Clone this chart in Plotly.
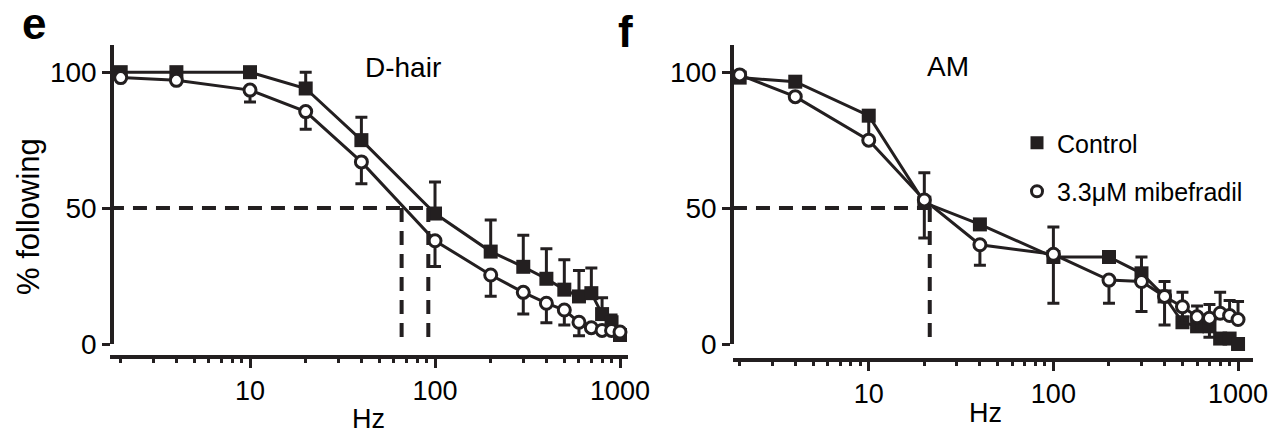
import plotly.graph_objects as go

# page body has an 8px default margin; figure is sized so it fits exactly
OFF = 8
W, H = 1282 - OFF, 439 - OFF
INK = "#231f20"
FONT = "Liberation Sans, Arial, sans-serif"

# ---- data ----
freq = [2, 4, 10, 20, 40, 100, 200, 300, 400, 500, 600, 700, 800, 900, 1000]

dhair_ctrl = [100, 100, 100, 94, 75, 48, 34, 28.4, 24, 20, 17.5, 18.7, 11, 8, 3.3]
dhair_ctrl_up = [0, 0, 0, 6, 8.4, 11.6, 11.6, 11.6, 11, 11, 9.5, 9.3, 6, 2.7, 0]
dhair_ctrl_dn = [0] * 15
dhair_mib = [98, 97, 93.4, 85.5, 67, 38, 25.4, 19, 15, 12.5, 8, 6, 5, 5, 4.4]
dhair_mib_up = [0] * 15
dhair_mib_dn = [0, 0, 4.4, 6.5, 8, 9.5, 7.8, 8, 7.2, 5.5, 5, 0, 0, 0, 0]

am_ctrl = [98, 96.5, 84, 52, 44, 32, 32, 26, 17.5, 8, 6.5, 6.5, 2, 2, 0]
am_ctrl_up = [0, 0, 0, 11, 0, 11, 0, 6, 5.5, 0, 0, 0, 0, 0, 0]
am_ctrl_dn = [0, 0, 8, 0, 0, 0, 0, 0, 0, 0, 0, 0, 0, 0, 0]
am_mib = [99, 91, 75, 53, 36.5, 33, 23.5, 23, 17.5, 13.7, 10, 9.5, 11.3, 10.5, 9]
am_mib_up = [0, 0, 0, 0, 0, 0, 0, 0, 0, 5.3, 4, 5, 7.7, 5.5, 6.6]
am_mib_dn = [0, 0, 0, 14, 7.5, 18, 8.5, 11, 10.5, 6, 5, 7, 0, 0, 0]

# half-maximum frequencies (dashed guides)
dhair_half = [66, 92]
am_half = [21.4]

x_ticks = [10, 100, 1000]
x_minor = [2, 3, 4, 5, 6, 7, 8, 9, 20, 30, 40, 50, 60, 70, 80, 90,
           200, 300, 400, 500, 600, 700, 800, 900]
y_ticks = [0, 50, 100]

legend_names = ["Control", "3.3\u03bcM mibefradil"]


def px_x(p):
    return (p - OFF) / W


def px_y(p):
    return 1 - (p - OFF) / H


fig = go.Figure()


def add_series(xa, ya, y, up, dn, kind):
    if kind == "ctrl":
        marker = dict(symbol="square", size=14, color=INK, line=dict(width=0))
    else:
        marker = dict(symbol="circle", size=12, color="white", line=dict(width=3, color=INK))
    fig.add_trace(go.Scatter(
        x=freq, y=y, xaxis=xa, yaxis=ya, mode="lines+markers",
        line=dict(color=INK, width=3), marker=marker, cliponaxis=False,
        error_y=dict(type="data", symmetric=False, array=up, arrayminus=dn,
                     color=INK, thickness=3, width=6),
        showlegend=False, hoverinfo="skip"))


add_series("x", "y", dhair_ctrl, dhair_ctrl_up, dhair_ctrl_dn, "ctrl")
add_series("x", "y", dhair_mib, dhair_mib_up, dhair_mib_dn, "mib")
add_series("x2", "y2", am_ctrl, am_ctrl_up, am_ctrl_dn, "ctrl")
add_series("x2", "y2", am_mib, am_mib_up, am_mib_dn, "mib")

# legend-only entries
fig.add_trace(go.Scatter(x=[None], y=[None], xaxis="x2", yaxis="y2", mode="markers",
                         name=legend_names[0], legendgroup="a",
                         marker=dict(symbol="square", size=13, color=INK)))
fig.add_trace(go.Scatter(x=[None], y=[None], xaxis="x2", yaxis="y2", mode="markers",
                         name=legend_names[1], legendgroup="b",
                         marker=dict(symbol="circle", size=11, color="white",
                                     line=dict(width=3, color=INK))))

# dashed guide lines
dash = "14px,9px"
LW = 4
shapes = []
shapes.append(dict(type="line", xref="x", yref="y", x0=1.75, x1=max(dhair_half), y0=50, y1=50,
                   line=dict(color=INK, width=LW, dash=dash)))
for f in dhair_half:
    shapes.append(dict(type="line", xref="x", yref="y", x0=f, x1=f, y0=50, y1=0,
                       line=dict(color=INK, width=LW, dash=dash)))
shapes.append(dict(type="line", xref="x2", yref="y2", x0=1.84, x1=am_half[0], y0=50, y1=50,
                   line=dict(color=INK, width=LW, dash=dash)))
shapes.append(dict(type="line", xref="x2", yref="y2", x0=am_half[0], x1=am_half[0], y0=50, y1=0,
                   line=dict(color=INK, width=LW, dash=dash)))

common_x = dict(type="log", showline=True, linewidth=3.5, linecolor=INK, ticks="outside",
                ticklen=9, tickwidth=3, tickcolor=INK, tickvals=x_ticks,
                ticktext=[str(v) for v in x_ticks], showgrid=False, zeroline=False,
                tickfont=dict(family=FONT, size=27, color="black"),
                minor=dict(tickvals=x_minor, ticks="outside", ticklen=4, tickwidth=2.5,
                           tickcolor=INK, showgrid=False),
                anchor="free", fixedrange=True, automargin=False)
common_y = dict(range=[0, 110], showline=True, linewidth=3.5, linecolor=INK, ticks="outside",
                ticklen=8, tickwidth=3, tickcolor=INK, tickvals=y_ticks, showgrid=False,
                zeroline=False, tickfont=dict(family=FONT, size=28, color="black"),
                anchor="free", domain=[px_y(344), px_y(45)], fixedrange=True,
                automargin=False)


def ann(text, x, y, size, angle=0):
    return dict(text=text, x=px_x(x), y=px_y(y), xref="paper", yref="paper",
                xanchor="center", yanchor="middle",
                showarrow=False, textangle=angle,
                font=dict(size=size, family=FONT, color="black"))


fig.update_layout(
    width=W, height=H, margin=dict(l=0, r=0, t=0, b=0, autoexpand=False),
    paper_bgcolor="white", plot_bgcolor="white",
    font=dict(family=FONT, color="black"),
    xaxis=dict(common_x, domain=[px_x(110), px_x(628)], range=[0.2432, 3.0432],
               position=px_y(357)),
    yaxis=dict(common_y, position=px_x(112)),
    xaxis2=dict(common_x, domain=[px_x(733), px_x(1253)], range=[0.2649, 3.081],
                position=px_y(360)),
    yaxis2=dict(common_y, position=px_x(732)),
    shapes=shapes,
    showlegend=True,
    legend=dict(x=px_x(1017), y=px_y(120), xanchor="left", yanchor="top",
                font=dict(family=FONT, size=25, color="black"),
                traceorder="grouped", tracegroupgap=13, bgcolor="rgba(0,0,0,0)"),
    annotations=[
        ann("<b>e</b>", 34, 23, 44),
        ann("<b>f</b>", 625, 31, 44),
        ann("D-hair", 403, 68, 28),
        ann("AM", 948, 66, 28),
        ann("Hz", 368, 419, 27),
        ann("Hz", 985, 413, 27),
        ann("% following", 29, 217, 31, -90),
    ],
)

fig.write_html("out.html")
